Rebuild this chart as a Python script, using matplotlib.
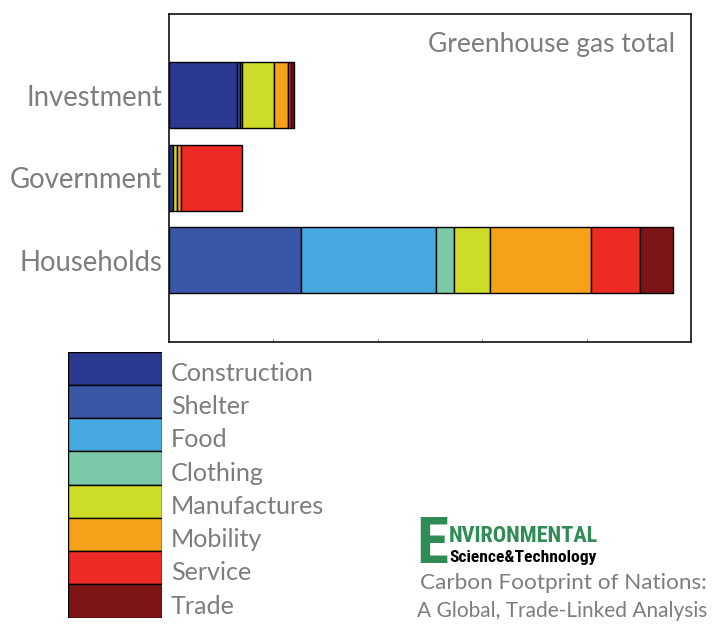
import matplotlib
matplotlib.use("Agg")
import matplotlib.pyplot as plt
import matplotlib.transforms as mtransforms
import numpy as np

# ---------------- data ----------------
sectors = ["Households", "Government", "Investment"]
categories = ["Construction", "Shelter", "Food", "Clothing",
              "Manufactures", "Mobility", "Service", "Trade"]
colors = ["#2b3990", "#3a57a7", "#45a8df", "#7bc9a8",
          "#cddc29", "#f7a11a", "#ee2a24", "#7d1416"]
# values per category, order: Households, Government, Investment
construction = [0.00, 0.035, 0.65]
shelter      = [1.26, 0.00, 0.03]
food         = [1.30, 0.00, 0.02]
clothing     = [0.17, 0.00, 0.00]
manufactures = [0.34, 0.04, 0.31]
mobility     = [0.97, 0.04, 0.13]
service      = [0.47, 0.58, 0.03]
trade        = [0.32, 0.00, 0.03]
series = [construction, shelter, food, clothing,
          manufactures, mobility, service, trade]

title_text = "Greenhouse gas total"
journal_first = "E"
journal_top = "NVIRONMENTAL"
journal_bottom = "Science&Technology"
subtitle1 = "Carbon Footprint of Nations:"
subtitle2 = "A Global, Trade-Linked Analysis"

# ---------------- figure ----------------
W, H = 713, 628
fig = plt.figure(figsize=(W / 100, H / 100), dpi=100)
gray = "#7d7d7d"
main_font = ["Lato", "DejaVu Sans"]
narrow_font = ["Roboto Condensed", "Liberation Sans Narrow", "DejaVu Sans"]


def fx(px):
    return px / W


def fy(py):
    return 1 - py / H


ax = fig.add_axes([fx(169), fy(342), fx(691) - fx(169), fy(13.5) - fy(342)])
ypos = np.arange(len(sectors))
left = np.zeros(len(sectors))
for vals, col in zip(series, colors):
    vals = np.array(vals)
    m = vals > 0
    ax.barh(ypos[m], vals[m], left=left[m], height=0.8, color=col,
            edgecolor="black", linewidth=1.0)
    left += vals
ax.set_xlim(0, 5)
ax.set_ylim(-0.99, 2.99)
ax.set_yticks(ypos)
ax.set_yticklabels(sectors, fontsize=19.8, color=gray, family=main_font)
ax.tick_params(axis="y", length=0, pad=5)
ax.set_xticks([1, 2, 3, 4])
ax.set_xticklabels([])
ax.tick_params(axis="x", direction="in", length=2.5, color="#888888", width=0.8)
for s in ax.spines.values():
    s.set_linewidth(1.2)
    s.set_color("#111111")

fig.text(fx(675), fy(52), title_text, ha="right", va="baseline",
         fontsize=19, color=gray, family=main_font)

# ---------------- legend ----------------
lax = fig.add_axes([fx(68), fy(617.5), fx(162) - fx(68), fy(351.7) - fy(617.5)])
lpos = np.arange(len(categories))
lax.barh(lpos, np.ones(len(categories)), height=1.0, color=colors,
         edgecolor="black", linewidth=1.0)
lax.set_xlim(0, 1)
lax.set_ylim(len(categories) - 0.5, -0.5)
lax.axis("off")
tr = mtransforms.blended_transform_factory(fig.transFigure, lax.transData)
for i, lab in enumerate(categories):
    lax.text(fx(171), i + 0.38, lab, transform=tr, ha="left", va="baseline",
             fontsize=18.1, color=gray, family=main_font, clip_on=False)

# ---------------- journal logo ----------------
green = "#2f8c55"
e_txt = fig.text(fx(416), fy(563), journal_first, ha="left", va="baseline",
                 fontsize=47, color=green, family=narrow_font, weight="bold")
renderer = fig.canvas.get_renderer()
bb = e_txt.get_window_extent(renderer)
x_after = bb.x1 + 1  # pixels from left
fig.text(x_after / W, fy(542), journal_top, ha="left", va="baseline",
         fontsize=16.0, color=green, family=narrow_font, weight="bold")
fig.text(x_after / W, fy(562), journal_bottom, ha="left", va="baseline",
         fontsize=12.6, color="black", family=narrow_font, weight="bold")
fig.text(fx(707), fy(589), subtitle1, ha="right", va="baseline",
         fontsize=16.2, color=gray, family=main_font)
fig.text(fx(707), fy(617), subtitle2, ha="right", va="baseline",
         fontsize=15.0, color=gray, family=main_font)

fig.savefig("out.png", dpi=100)
